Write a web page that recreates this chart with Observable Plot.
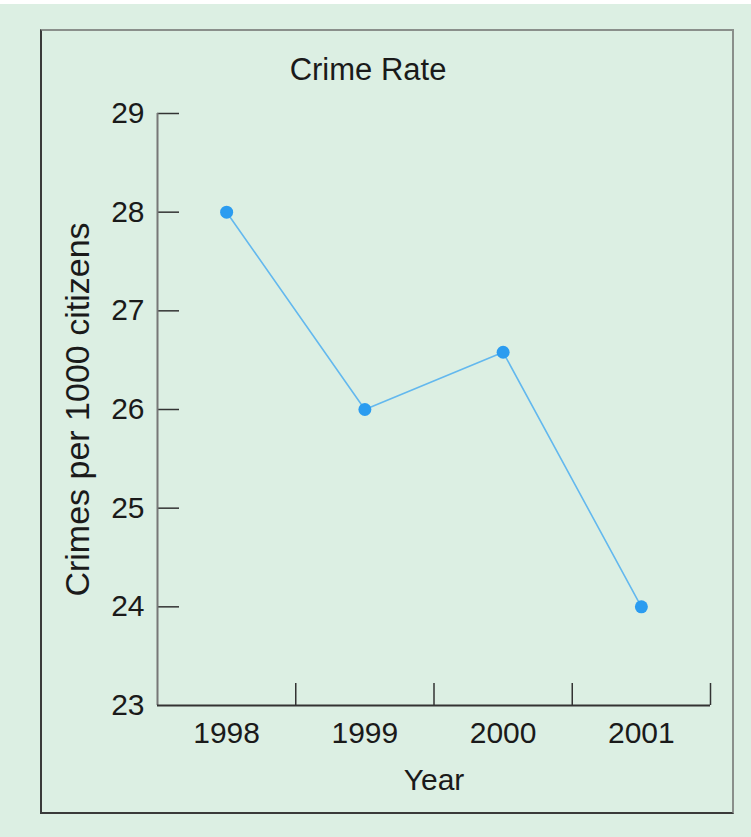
<!DOCTYPE html>
<html>
<head>
<meta charset="utf-8">
<script src="https://cdn.jsdelivr.net/npm/d3@7"></script>
<script src="https://cdn.jsdelivr.net/npm/@observablehq/plot@0.6"></script>
<style>
  html, body { margin: 0; padding: 0; }
  body { width: 751px; height: 837px; background: #dcefe3; position: relative; overflow: hidden; font-family: "Liberation Sans", Arial, sans-serif; }
  #strip { position: absolute; left: 0; top: 0; width: 751px; height: 4px; background: #ffffff; }
  #box { position: absolute; left: 40px; top: 29px; width: 694px; height: 785px; box-sizing: border-box;
         border-top: 2px solid #8a8f8b; border-right: 2px solid #8a8f8b; border-left: 2px solid #3a3a3a; border-bottom: 2px solid #3a3a3a; }
  #chart { position: absolute; left: 0; top: 0; }
</style>
</head>
<body>
<div id="strip"></div>
<div id="box"></div>
<div id="chart"></div>
<script>
const years = [1998, 1999, 2000, 2001];
const crimes = [28, 26, 26.58, 24];
const yTicks = [23, 24, 25, 26, 27, 28, 29];
const titleText = "Crime Rate";
const xLabel = "Year";
const yLabel = "Crimes per 1000 citizens";

const data = years.map((y, i) => ({year: y, rate: crimes[i]}));
const xDomain = [years[0] - 0.5, years[years.length - 1] + 0.5];
const yDomain = [yTicks[0], yTicks[yTicks.length - 1]];
const boundaries = years.map(y => y + 0.5);

const W = 751, H = 837, mL = 157, mR = 41, mT = 113, mB = 132;
const fw = W - mL - mR, fh = H - mT - mB;
const tickLen = 22;

const chart = Plot.plot({
  width: W,
  height: H,
  marginLeft: mL,
  marginRight: mR,
  marginTop: mT,
  marginBottom: mB,
  style: {background: "transparent", fontFamily: "'Liberation Sans', Arial, sans-serif", color: "#1a1a1a"},
  x: {type: "linear", domain: xDomain},
  y: {domain: yDomain},
  marks: [
    Plot.ruleY(yTicks.slice(1), {stroke: "#333", strokeWidth: 1.5, insetRight: fw - tickLen}),
    Plot.ruleX(boundaries, {stroke: "#333", strokeWidth: 1.5, insetTop: fh - tickLen}),
    Plot.ruleX([xDomain[0]], {stroke: "#777", strokeWidth: 2}),
    Plot.ruleY([yDomain[0]], {stroke: "#333", strokeWidth: 2}),
    Plot.axisY({ticks: yTicks, tickSize: 0, tickPadding: 13, fontSize: 30, label: null, tickFormat: d => String(d), fill: "#1a1a1a"}),
    Plot.axisX({ticks: years, tickSize: 0, tickPadding: 16, fontSize: 30, label: null, tickFormat: d => String(d), fill: "#1a1a1a"}),
    Plot.line(data, {x: "year", y: "rate", stroke: "#63b8ee", strokeWidth: 1.6}),
    Plot.dot(data, {x: "year", y: "rate", r: 6.5, fill: "#2b9cf0", stroke: "none"}),
    Plot.text([titleText], {frameAnchor: "top", textAnchor: "middle", lineAnchor: "middle", dx: -66, dy: -43, fontSize: 31, fill: "#1a1a1a"}),
    Plot.text([xLabel], {frameAnchor: "bottom", textAnchor: "middle", lineAnchor: "middle", dy: 75, fontSize: 30, fill: "#1a1a1a"}),
    Plot.text([yLabel], {frameAnchor: "left", textAnchor: "middle", lineAnchor: "middle", dx: -79, rotate: -90, fontSize: 34, fill: "#1a1a1a"})
  ]
});
document.getElementById("chart").appendChild(chart);
</script>
</body>
</html>
